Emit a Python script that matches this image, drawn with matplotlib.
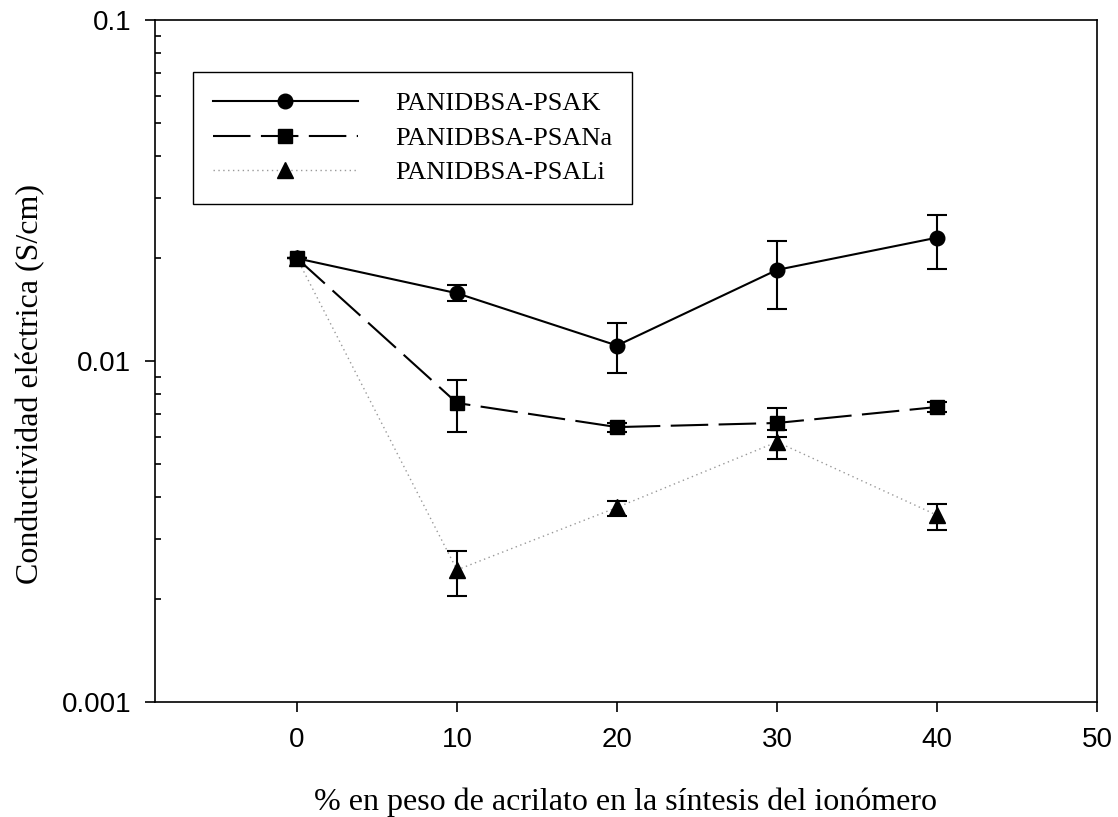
import matplotlib
matplotlib.use('Agg')
import matplotlib.pyplot as plt
from matplotlib.lines import Line2D
from matplotlib.ticker import FixedLocator, LogLocator, NullFormatter

# % acrylate in ionomer synthesis
acrilato = [0, 10, 20, 30, 40]

# conductivity (S/cm) and asymmetric error bars (lower, upper)
psak = [0.0200, 0.0158, 0.0111, 0.0185, 0.0230]
psak_lo = [0.0, 0.0008, 0.0019, 0.0043, 0.0044]
psak_hi = [0.0, 0.0009, 0.0018, 0.0040, 0.0038]

psana = [0.0200, 0.00753, 0.00640, 0.00658, 0.00733]
psana_lo = [0.0, 0.00134, 0.00020, 0.00060, 0.00025]
psana_hi = [0.0, 0.00127, 0.00020, 0.00070, 0.00025]

psali = [0.0200, 0.00244, 0.00372, 0.00579, 0.00353]
psali_lo = [0.0, 0.00039, 0.00021, 0.00063, 0.00034]
psali_hi = [0.0, 0.00033, 0.00017, 0.00050, 0.00028]

labels = ['PANIDBSA-PSAK', 'PANIDBSA-PSANa', 'PANIDBSA-PSALi']

serif = 'Liberation Serif'
sans = 'Liberation Sans'
dash = (0, (18, 5))
dots = (0, (1, 2.5))

fig = plt.figure(figsize=(11.18, 8.17), dpi=100)
ax = fig.add_axes([155/1118, 1 - 702/817, 942/1118, 682/817])

# solid line, circles
ax.errorbar(acrilato, psak, yerr=[psak_lo, psak_hi], color='black', lw=1.5,
            marker='o', markersize=10.5, capsize=7, elinewidth=1.5, capthick=1.5,
            zorder=3)
# long dashes, squares
ax.errorbar(acrilato, psana, yerr=[psana_lo, psana_hi], color='black', lw=1.5,
            linestyle=dash, marker='s', markersize=10.5, capsize=7,
            elinewidth=1.5, capthick=1.5, zorder=3)
# gray dotted, triangles
eb = ax.errorbar(acrilato, psali, yerr=[psali_lo, psali_hi], color='black', lw=1.5,
                 marker='^', markersize=12, capsize=7, elinewidth=1.5, capthick=1.5,
                 zorder=3)
eb.lines[0].set_linestyle(dots)
eb.lines[0].set_color('0.6')
eb.lines[0].set_linewidth(1.0)
eb.lines[0].set_markerfacecolor('black')
eb.lines[0].set_markeredgecolor('black')

ax.set_yscale('log')
ax.set_ylim(0.001, 0.1)
ax.set_xlim(-8.875, 50)

ax.xaxis.set_major_locator(FixedLocator([0, 10, 20, 30, 40, 50]))
ax.yaxis.set_major_locator(FixedLocator([0.001, 0.01, 0.1]))
ax.yaxis.set_minor_locator(LogLocator(base=10, subs=range(2, 10)))
ax.yaxis.set_minor_formatter(NullFormatter())
ax.set_yticklabels(['0.001', '0.01', '0.1'])

ax.tick_params(axis='x', which='major', direction='out', length=7, width=1.2,
               pad=11, labelsize=20)
ax.tick_params(axis='y', which='major', direction='out', length=7, width=1.2,
               pad=10, labelsize=20)
ax.tick_params(axis='y', which='minor', direction='in', length=4.5, width=1.2)
ax.tick_params(axis='x', which='minor', bottom=False)
for lab in ax.get_xticklabels() + ax.get_yticklabels():
    lab.set_family(sans)

for sp in ax.spines.values():
    sp.set_linewidth(1.2)

ax.set_xlabel('% en peso de acrilato en la síntesis del ionómero',
              fontsize=23, family=serif, labelpad=25)
ax.set_ylabel('Conductividad eléctrica (S/cm)', fontsize=23, family=serif)
ax.yaxis.set_label_coords(-0.117, 0.466)

handles = [
    Line2D([], [], color='black', lw=1.5, marker='o', markersize=10.5),
    Line2D([], [], color='black', lw=1.5, linestyle=dash, marker='s', markersize=10.5),
    Line2D([], [], color='0.6', lw=1.0, linestyle=dots, marker='^', markersize=12,
           markerfacecolor='black', markeredgecolor='black'),
]
leg = ax.legend(handles, labels, loc='upper left', bbox_to_anchor=(0.0403, 0.9238),
                borderaxespad=0, prop={'family': serif, 'size': 19}, fancybox=False,
                edgecolor='black', framealpha=1, handlelength=5.5,
                handletextpad=1.4, labelspacing=0.42, borderpad=0.75)
leg.get_frame().set_linewidth(1.0)

fig.savefig('out.png', dpi=100)
